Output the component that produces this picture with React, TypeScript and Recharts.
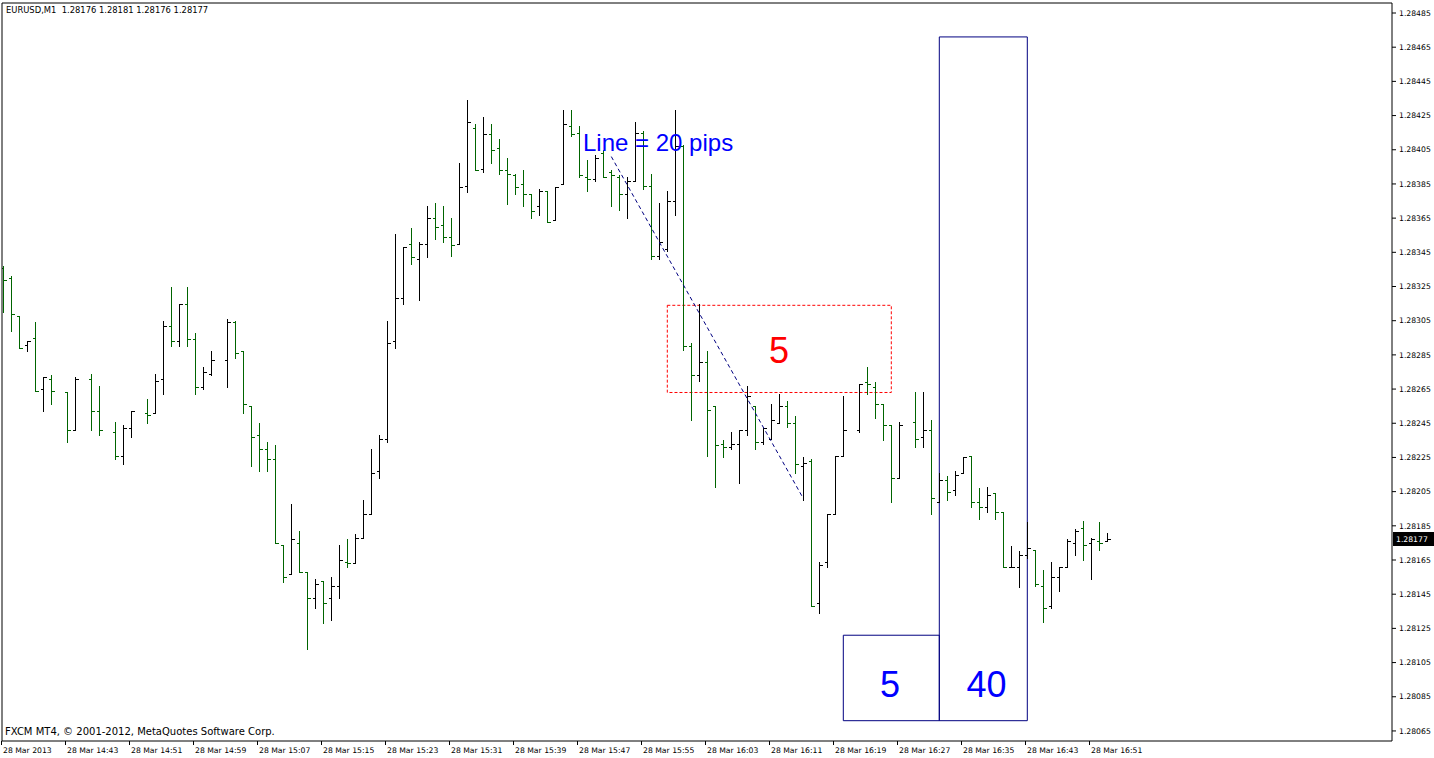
import React from "react";
import {
  ComposedChart,
  Bar,
  XAxis,
  YAxis,
  ReferenceArea,
  ReferenceLine,
  ReferenceDot,
} from "recharts";

// EURUSD M1, 28 Mar 2013, 14:35 .. 16:53 (one entry per minute bar, null = not drawn)
const opens = [
  1.28336, 1.2833, 1.28308, 1.28291, 1.28295, 1.28265, 1.28271, null, 1.28263, 1.28241,
  null, 1.28271, 1.28252, null, 1.2824, 1.28226, 1.28242, null, 1.28251, 1.28251,
  1.28271, 1.28302, 1.28293, 1.28315, 1.28294, 1.28266, 1.28274, null, 1.28282, 1.28304,
  1.28287, 1.28255, 1.28238, 1.2823, 1.28224, 1.28174, 1.28157, 1.28175, 1.28158, 1.28143,
  1.28153, 1.28143, 1.2815, 1.28164, 1.28163, 1.28178, 1.28192, 1.28217, 1.28236, 1.28293,
  1.28318, 1.2835, 1.28341, 1.2835, 1.28365, 1.28361, 1.28354, 1.2835, 1.28384, 1.28418,
  1.28394, 1.28414, 1.28406, 1.28393, 1.2839, 1.28385, 1.28379, 1.28372, 1.28381, 1.28364,
  1.28385, 1.28419, 1.28415, 1.28389, 1.28388, 1.28403, 1.28392, 1.28389, 1.28379, 1.28387,
  1.28415, 1.28384, 1.28343, 1.28347, 1.28375, 1.28407, 1.2829, 1.28273, 1.28281, 1.28255,
  1.28233, 1.28231, 1.28233, 1.28241, 1.28255, 1.28234, 1.28236, 1.28245, 1.28255, 1.28245,
  1.2822, 1.28223, 1.2814, 1.28164, 1.28192, 1.28226, null, 1.28241, 1.28269, 1.28266,
  1.28256, 1.28244, 1.28213, null, 1.28246, 1.28237, 1.28241, 1.28199, 1.28212, 1.28206,
  1.28216, 1.28226, 1.28199, 1.28196, 1.28204, 1.28193, 1.28161, 1.28161, 1.28168, 1.28171,
  1.2815, 1.28138, 1.28155, 1.28161, 1.28175, 1.28184, 1.28175, 1.28176, 1.28176,
];
const highs = [
  1.28337, 1.28331, 1.28308, 1.28293, 1.28304, 1.28272, 1.28273, null, 1.28263, 1.28272,
  null, 1.28274, 1.28267, null, 1.28246, 1.28244, 1.28252, null, 1.28259, 1.28274,
  1.28305, 1.28325, 1.28315, 1.28325, 1.28298, 1.28278, 1.28287, null, 1.28306, 1.28305,
  1.28287, 1.28255, 1.28245, 1.28234, 1.28232, 1.28174, 1.28198, 1.28182, 1.28158, 1.28154,
  1.28153, 1.28155, 1.28174, 1.28177, 1.2818, 1.282, 1.2823, 1.28238, 1.28305, 1.28356,
  1.28348, 1.28359, 1.28351, 1.28372, 1.28374, 1.28372, 1.28365, 1.28397, 1.28434, 1.2842,
  1.28424, 1.2842, 1.28411, 1.284, 1.28391, 1.28393, 1.28379, 1.28382, 1.28381, 1.28383,
  1.28428, 1.28428, 1.28419, 1.28399, 1.28402, 1.28405, 1.28393, 1.2839, 1.28389, 1.28421,
  1.28416, 1.28391, 1.28374, 1.28381, 1.28428, 1.28408, 1.28292, 1.28315, 1.28287, 1.28255,
  1.28235, 1.2824, 1.28241, 1.28267, 1.28255, 1.28242, 1.28256, 1.28262, 1.28258, 1.28249,
  1.28225, 1.28224, 1.28164, 1.28192, 1.28226, 1.28261, null, 1.28268, 1.28278, 1.28269,
  1.28256, 1.28244, 1.28246, null, 1.28263, 1.28263, 1.28247, 1.28216, 1.28214, 1.28217,
  1.28225, 1.28226, 1.28207, 1.28208, 1.28204, 1.28193, 1.28173, 1.2817, 1.28187, 1.28171,
  1.28159, 1.28164, 1.28161, 1.28177, 1.28183, 1.28188, 1.28178, 1.28187, 1.28181,
];
const lows = [
  1.2831, 1.28299, 1.28289, 1.28287, 1.28264, 1.28252, 1.28256, null, 1.28234, 1.28241,
  null, 1.28241, 1.28238, null, 1.28224, 1.28221, 1.28237, null, 1.28245, 1.28251,
  1.28262, 1.2829, 1.2829, 1.2829, 1.28262, 1.28265, 1.28273, null, 1.28266, 1.28283,
  1.28251, 1.2822, 1.28217, 1.28217, 1.28175, 1.28152, 1.28157, 1.28158, 1.28113, 1.28137,
  1.28128, 1.2813, 1.28143, 1.28161, 1.28163, 1.28178, 1.28192, 1.28213, 1.28234, 1.28289,
  1.28315, 1.28338, 1.28317, 1.28342, 1.28353, 1.28351, 1.28343, 1.2835, 1.2838, 1.28393,
  1.28392, 1.28397, 1.28391, 1.28373, 1.28379, 1.28372, 1.28365, 1.28367, 1.28363, 1.28364,
  1.28385, 1.28413, 1.28389, 1.28381, 1.28387, 1.28389, 1.28372, 1.2837, 1.28365, 1.28387,
  1.28382, 1.28341, 1.28341, 1.28346, 1.28367, 1.28288, 1.28247, 1.2827, 1.28226, 1.28208,
  1.28225, 1.2823, 1.2821, 1.28238, 1.2823, 1.28233, 1.28236, 1.28245, 1.28243, 1.28216,
  1.282, 1.28138, 1.28134, 1.28161, 1.28192, 1.28226, null, 1.2824, 1.28262, 1.28248,
  1.28235, 1.28199, 1.28213, null, 1.28231, 1.28231, 1.28192, 1.28199, 1.282, 1.28203,
  1.28216, 1.28196, 1.28189, 1.28193, 1.28189, 1.28161, 1.28161, 1.28149, 1.28166, 1.2815,
  1.28129, 1.28137, 1.28147, 1.28161, 1.28168, 1.28165, 1.28154, 1.28171, 1.28176,
];
const closes = [
  1.28329, 1.28309, 1.28289, 1.28293, 1.28264, 1.28272, 1.28264, null, 1.28241, 1.28271,
  null, 1.28252, 1.28241, null, 1.28226, 1.28242, 1.28252, null, 1.2825, 1.2827,
  1.28302, 1.28293, 1.28315, 1.28294, 1.28266, 1.28275, 1.28282, null, 1.28304, 1.28286,
  1.28256, 1.28237, 1.2823, 1.28224, 1.28175, 1.28155, 1.28177, 1.28158, 1.28143, 1.28151,
  1.2814, 1.2815, 1.28165, 1.28163, 1.28178, 1.28192, 1.28216, 1.28236, 1.28292, 1.28318,
  1.28348, 1.28342, 1.2835, 1.28365, 1.2836, 1.28354, 1.28349, 1.28383, 1.28421, 1.28393,
  1.28414, 1.28405, 1.28393, 1.28391, 1.28383, 1.28379, 1.28369, 1.28381, 1.28363, 1.28383,
  1.2842, 1.28414, 1.2839, 1.28388, 1.284, 1.28389, 1.2839, 1.28379, 1.28387, 1.28415,
  1.28384, 1.28343, 1.28351, 1.28375, 1.28407, 1.2829, 1.28273, 1.28281, 1.28253, 1.28232,
  1.28231, 1.28233, 1.28241, 1.28261, 1.28234, 1.28242, 1.28247, 1.28255, 1.28245, 1.28221,
  1.28222, 1.28138, 1.28162, 1.28192, 1.28226, 1.28241, null, 1.28268, 1.28268, 1.28256,
  1.28244, 1.28213, 1.28244, null, 1.28236, 1.28241, 1.28201, 1.28212, 1.28205, 1.28215,
  1.28225, 1.28199, 1.28196, 1.28203, 1.28193, 1.28161, 1.28161, 1.28168, 1.28172, 1.28151,
  1.28137, 1.28155, 1.28161, 1.28176, 1.28182, 1.28174, 1.28177, 1.28175, 1.28177,
];

const timeTicks = [0, 8, 16, 24, 32, 40, 48, 56, 64, 72, 80, 88, 96, 104, 112, 120, 128, 136];
const timeLabels = [
  "28 Mar 2013", "28 Mar 14:43", "28 Mar 14:51", "28 Mar 14:59", "28 Mar 15:07",
  "28 Mar 15:15", "28 Mar 15:23", "28 Mar 15:31", "28 Mar 15:39", "28 Mar 15:47",
  "28 Mar 15:55", "28 Mar 16:03", "28 Mar 16:11", "28 Mar 16:19", "28 Mar 16:27",
  "28 Mar 16:35", "28 Mar 16:43", "28 Mar 16:51",
];
const priceTicks = [
  1.28065, 1.28085, 1.28105, 1.28125, 1.28145, 1.28165, 1.28185, 1.28205, 1.28225, 1.28245,
  1.28265, 1.28285, 1.28305, 1.28325, 1.28345, 1.28365, 1.28385, 1.28405, 1.28425, 1.28445,
  1.28465, 1.28485,
];

const lastPrice = 1.28177;

const X_MIN = -0.1625;
const X_MAX = 173.5875;
const Y_MIN = 1.2805912;
const Y_MAX = 1.2849085;

const UP = "#000000";
const DOWN = "#006400";
const AXIS_FONT = "'DejaVu Sans', Tahoma, sans-serif";
const TEXT_FONT = "'Liberation Sans', Arial, sans-serif";

const data = opens.map((o, i) => ({
  i,
  o,
  h: highs[i],
  l: lows[i],
  c: closes[i],
  range: o == null ? null : [lows[i], highs[i]],
}));

const OhlcBar = (props: any) => {
  const { x, y, width, height, payload } = props;
  if (!payload || payload.o == null) return null;
  const { o, h, l, c } = payload;
  const top = Math.min(y, y + height);
  const bot = Math.max(y, y + height);
  const span = h - l;
  const py = (v: number) => (span > 0 ? top + ((h - v) / span) * (bot - top) : top);
  const cx = Math.round(x + width / 2) + 0.5;
  const yo = Math.round(py(o)) + 0.5;
  const yc = Math.round(py(c)) + 0.5;
  const color = c < o ? DOWN : UP;
  return (
    <g stroke={color} strokeWidth={1} shapeRendering="crispEdges">
      <line x1={cx} x2={cx} y1={Math.round(top)} y2={Math.round(bot) + 1} />
      <line x1={cx - 3} x2={cx} y1={yo} y2={yo} />
      <line x1={cx} x2={cx + 3} y1={yc} y2={yc} />
    </g>
  );
};

const TimeTick = (props: any) => {
  const { x, y, payload } = props;
  const k = timeTicks.indexOf(payload.value);
  const px = Math.round(x) - 2 + 0.5;
  return (
    <g>
      <line x1={px} x2={px} y1={y} y2={y + 4} stroke="#000" shapeRendering="crispEdges" />
      <text x={px + 1.5} y={y + 12} fontSize={7.7} fontFamily={AXIS_FONT} fill="#000">
        {timeLabels[k]}
      </text>
    </g>
  );
};

const PriceTag = (props: any) => {
  const vb = props.viewBox;
  if (!vb) return null;
  const left = vb.x + vb.width + 1;
  return (
    <g>
      <rect x={left} y={Math.round(vb.y) - 7} width={41} height={14} fill="#000" />
      <text x={left + 3} y={Math.round(vb.y) + 3} fontSize={7.7} fontFamily={AXIS_FONT} fill="#fff">
        {lastPrice.toFixed(5)}
      </text>
    </g>
  );
};

export default function App() {
  return (
    <div style={{ position: "fixed", left: 0, top: 0, width: 1434, height: 758, background: "#fff" }}>
      <ComposedChart
        width={1434}
        height={758}
        data={data}
        margin={{ top: 3, right: 0, bottom: 0, left: 2 }}
      >
        <XAxis
          dataKey="i"
          type="number"
          domain={[X_MIN, X_MAX]}
          allowDataOverflow
          ticks={timeTicks}
          interval={0}
          tick={<TimeTick />}
          tickLine={false}
          tickSize={0}
          tickMargin={0}
          height={17}
          axisLine={{ stroke: "#000" }}
        />
        <YAxis
          orientation="right"
          type="number"
          domain={[Y_MIN, Y_MAX]}
          allowDataOverflow
          ticks={priceTicks}
          interval={0}
          width={42}
          tickSize={4}
          tickMargin={3}
          tickFormatter={(v: number) => v.toFixed(5)}
          tick={{ fontSize: 7.7, fill: "#000", fontFamily: AXIS_FONT }}
          tickLine={{ stroke: "#000" }}
          axisLine={{ stroke: "#000" }}
        />
        <ReferenceLine y={Y_MAX} stroke="#000" />
        <ReferenceLine x={X_MIN} stroke="#000" />
        <ReferenceArea
          x1={83}
          x2={111}
          y1={1.28263}
          y2={1.28314}
          fill="none"
          stroke="#ff0000"
          strokeDasharray="3 2"
          ifOverflow="visible"
        />
        <ReferenceArea
          x1={105}
          x2={117}
          y1={1.28071}
          y2={1.28121}
          fill="none"
          stroke="#000080"
          ifOverflow="visible"
        />
        <ReferenceArea
          x1={117}
          x2={128}
          y1={1.28071}
          y2={1.28471}
          fill="none"
          stroke="#000080"
          ifOverflow="visible"
        />
        <ReferenceLine
          segment={[
            { x: 76, y: 1.28401 },
            { x: 100, y: 1.28201 },
          ]}
          stroke="#000080"
          strokeDasharray="4 3"
          ifOverflow="visible"
        />
        <Bar
          dataKey="range"
          barSize={7}
          shape={<OhlcBar />}
          isAnimationActive={false}
        />
        <ReferenceDot
          x={71.84}
          y={1.284094}
          r={0}
          stroke="none"
          fill="none"
          label={{ value: "Line = 20 pips", position: "right", fill: "#0000ff", fontSize: 24, fontFamily: TEXT_FONT }}
        />
        <ReferenceDot
          x={96.96}
          y={1.282877}
          r={0}
          stroke="none"
          fill="none"
          label={{ value: "5", position: "center", fill: "#ff0000", fontSize: 36, fontFamily: TEXT_FONT }}
        />
        <ReferenceDot
          x={110.84}
          y={1.280925}
          r={0}
          stroke="none"
          fill="none"
          label={{ value: "5", position: "center", fill: "#0000ff", fontSize: 36, fontFamily: TEXT_FONT }}
        />
        <ReferenceDot
          x={122.9}
          y={1.280925}
          r={0}
          stroke="none"
          fill="none"
          label={{ value: "40", position: "center", fill: "#0000ff", fontSize: 36, fontFamily: TEXT_FONT }}
        />
        <ReferenceLine y={lastPrice} stroke="none" label={<PriceTag />} />
      </ComposedChart>
      <div
        style={{
          position: "absolute",
          left: 6,
          top: 6,
          fontSize: 8.4,
          lineHeight: "9px",
          fontFamily: AXIS_FONT,
          color: "#000",
          whiteSpace: "pre",
        }}
      >
        {"EURUSD,M1  1.28176 1.28181 1.28176 1.28177"}
      </div>
      <div
        style={{
          position: "absolute",
          left: 5,
          top: 727,
          fontSize: 10,
          lineHeight: "10px",
          fontFamily: AXIS_FONT,
          color: "#000",
          whiteSpace: "pre",
        }}
      >
        {"FXCM MT4, © 2001-2012, MetaQuotes Software Corp."}
      </div>
    </div>
  );
}
